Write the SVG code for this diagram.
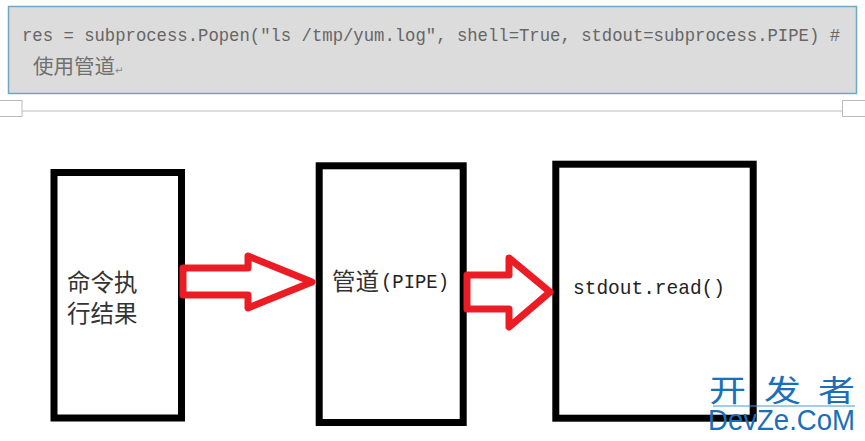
<svg xmlns="http://www.w3.org/2000/svg" width="865" height="441" viewBox="0 0 865 441">
<style>
text{font-family:"Liberation Mono","Noto Sans CJK SC",monospace}
.box{fill:none;stroke:#000;stroke-width:7}
.arrow{fill:none;stroke:#ec1c24;stroke-width:7;stroke-linejoin:round}
.code{font-size:17.500px;fill:#666;font-family:"Liberation Mono","Noto Sans CJK SC",monospace}
.codecn{font-size:20px;fill:#707070;font-family:"Noto Sans CJK SC",sans-serif}
.lab{fill:#333;font-size:23.500px;font-family:"Noto Sans CJK SC",sans-serif}
.mono{fill:#222;font-size:21px;font-family:"Liberation Mono","Noto Sans CJK SC",monospace}
.wm{fill:#1a6fb8;font-family:"Liberation Sans","Noto Sans CJK SC",sans-serif}
.mark{fill:#fff;stroke:#bbb;stroke-width:1}
</style>
<rect width="865" height="441" fill="#fff"/>
<g id="code-block">
<rect x="8.500" y="6.500" width="848" height="87" fill="#dcdcdc" stroke="#6fa8c4" stroke-width="1.500"/>
<text class="code" x="22" y="41" textLength="818" lengthAdjust="spacingAndGlyphs" xml:space="preserve">res = subprocess.Popen("ls /tmp/yum.log", shell=True, stdout=subprocess.PIPE) #</text>
<text class="codecn" x="33" y="74" textLength="82" lengthAdjust="spacingAndGlyphs">使用管道</text>
<text x="115" y="74" font-size="10" fill="#888" style="font-family:'DejaVu Sans',sans-serif">↵</text>
</g>
<g id="page-rule">
<line x1="22" y1="111" x2="843" y2="111" stroke="#ddd" stroke-width="2"/>
<rect class="mark" x="-2" y="100.500" width="24" height="16"/>
<rect class="mark" x="842.500" y="100.500" width="24" height="16"/>
</g>
<g id="node-result">
<rect class="box" x="54" y="172.500" width="127.500" height="245.500"/>
<text class="lab" x="67" y="291">命令执</text>
<text class="lab" x="67" y="322">行结果</text>
</g>
<g id="node-pipe">
<rect class="box" x="319.200" y="165.800" width="144" height="256.700"/>
<text class="lab" x="332" y="290">管道</text>
<text class="mono" x="381" y="288" textLength="68" lengthAdjust="spacingAndGlyphs" style="font-family:'Liberation Mono',monospace">(PIPE)</text>
</g>
<g id="node-stdout">
<rect class="box" x="555.800" y="164.200" width="197.400" height="254"/>
<text class="mono" x="573" y="294" textLength="152" lengthAdjust="spacingAndGlyphs">stdout.read()</text>
</g>
<g id="connectors">
<path class="arrow" d="M183 268H248V256L312 282L248 308V295H183Z"/>
<path class="arrow" d="M467 275H509V258L550 292L509 327V309H467Z"/>
</g>
<g id="watermark">
<text class="wm" x="709" y="401" font-size="30" textLength="37" lengthAdjust="spacingAndGlyphs">开</text>
<text class="wm" x="764" y="401" font-size="30" textLength="37" lengthAdjust="spacingAndGlyphs">发</text>
<text class="wm" x="818" y="401" font-size="30" textLength="37" lengthAdjust="spacingAndGlyphs">者</text>
<line x1="713" y1="406" x2="855" y2="406" stroke="#4a9ad4" stroke-width="1"/>
<text class="wm" x="708" y="430" font-size="29" textLength="147" lengthAdjust="spacingAndGlyphs">DevZe.CoM</text>
</g>
</svg>
